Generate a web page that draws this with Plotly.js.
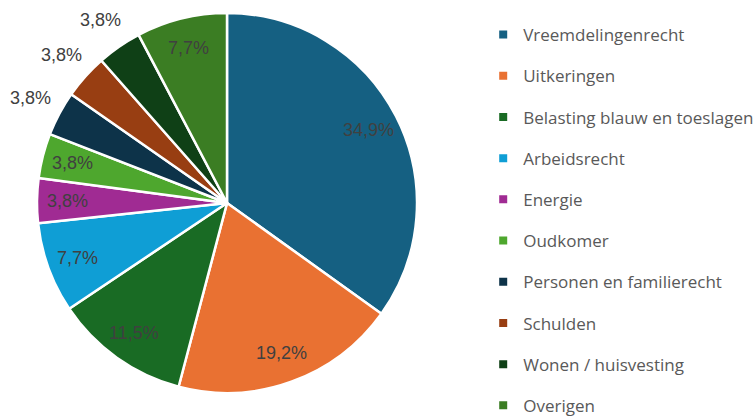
<!DOCTYPE html>
<html><head><meta charset="utf-8">
<script src="https://cdn.plot.ly/plotly-3.0.1.min.js"></script>
<style>html,body{margin:0;padding:0;background:#fff;width:755px;height:419px;overflow:hidden;}#wrap{width:755px;height:419px;overflow:hidden;}</style>
</head><body><div id="wrap"><div id="chart"></div></div>
<script>
const categories = ["Vreemdelingenrecht","Uitkeringen","Belasting blauw en toeslagen","Arbeidsrecht","Energie","Oudkomer","Personen en familierecht","Schulden","Wonen / huisvesting","Overigen"];
const values = [34.9, 19.2, 11.5, 7.7, 3.8, 3.8, 3.8, 3.8, 3.8, 7.7];
const colors = ["#156082","#E97132","#196B24","#0F9ED5","#A02B93","#4EA72E","#0D3349","#983E12","#0F4016","#3B7D23"];
const labelPos = ["inside","inside","inside","inside","inside","inside","outside","outside","outside","inside"];

const pctText = values.map(v => v.toFixed(1).replace('.', ',') + '%');

// geometry (pixels)
const W = 755, H = 430;
const cx = 227, cy = 203, R = 190;
const dom = {x: [(cx - R) / W, (cx + R) / W], y: [(H - cy - R) / H, (H - cy + R) / H]};

const labelFont = {family: 'Liberation Sans, Arial, sans-serif', size: 18, color: '#404040'};

const pie = {
  type: 'pie',
  labels: categories,
  values: values,
  textinfo: 'none',
  sort: false,
  direction: 'clockwise',
  rotation: 0,
  marker: {colors: colors, line: {color: '#ffffff', width: 2.5}},
  domain: dom,
  showlegend: false,
  hoverinfo: 'none'
};

// data labels placed at each slice's mid angle (Excel "best fit" style)
const total = values.reduce((a, b) => a + b, 0);
let cum = 0;
const annotations = values.map((v, i) => {
  const mid = (cum + v / 2) / total * 2 * Math.PI;
  cum += v;
  const rr = labelPos[i] === 'inside' ? 0.84 * R : 1.17 * R;
  const px = cx + rr * Math.sin(mid);
  const py = cy - rr * Math.cos(mid);
  return {
    xref: 'paper', yref: 'paper', x: px / W, y: 1 - py / H,
    xanchor: 'center', yanchor: 'middle', showarrow: false,
    text: pctText[i], font: labelFont
  };
});

// legend entries (one per category, so the legend spacing can follow the reference)
const legendTraces = categories.map((c, i) => ({
  type: 'scatter', mode: 'markers', x: [null], y: [null],
  name: c, legendgroup: 'g' + i,
  marker: {symbol: 'square', size: 8, color: colors[i]},
  hoverinfo: 'none'
}));

const layout = {
  width: W, height: H,
  margin: {l: 0, r: 0, t: 0, b: 0, autoexpand: false},
  paper_bgcolor: '#ffffff', plot_bgcolor: '#ffffff',
  xaxis: {visible: false}, yaxis: {visible: false},
  showlegend: true,
  annotations: annotations,
  legend: {
    x: 0.64, xanchor: 'left', y: 1 - 17 / H, yanchor: 'top',
    font: {family: 'Open Sans, sans-serif', size: 17, color: '#595959'},
    tracegroupgap: 16.1, itemwidth: 30, bgcolor: 'rgba(0,0,0,0)'
  }
};

Plotly.newPlot('chart', [pie].concat(legendTraces), layout, {displayModeBar: false, staticPlot: true});
</script></body></html>
